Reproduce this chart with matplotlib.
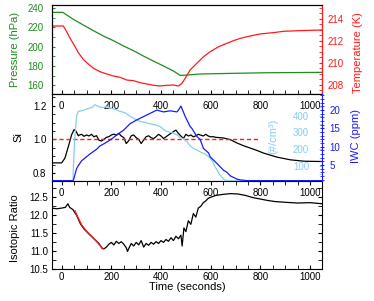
import matplotlib
matplotlib.use("Agg")
import matplotlib.pyplot as plt
from matplotlib.ticker import MultipleLocator, FixedLocator

plt.rcParams["font.family"] = ["Liberation Sans", "DejaVu Sans"]

GREEN = "#1e8c1e"
RED = "#ff1a1a"
LIGHTBLUE = "#87ceeb"
BLUE = "#1a1aff"

# top panel: chamber pressure and temperature
pres_t = [-39, 5, 20, 47, 87, 128, 168, 208, 249, 289, 329, 369, 410, 450,
          477, 504, 557, 692, 826, 1048]
pres_hpa = [235.5, 235.5, 232.8, 228.3, 222.4, 216.5, 211.0, 206.2, 200.7,
            195.8, 190.3, 185.1, 180.0, 174.8, 170.3, 170.6, 171.7, 172.4,
            173.0, 173.4]

temp_t = [-39, 7, 20, 34, 50, 67, 87, 107, 128, 154, 181, 208, 235, 262, 289,
          316, 343, 369, 396, 423, 450, 470, 484, 497, 517, 544, 571, 598, 632,
          665, 692, 719, 759, 800, 853, 894, 961, 1048]
temp_k = [213.36, 213.36, 212.85, 212.24, 211.64, 210.94, 210.33, 209.91,
          209.52, 209.21, 209.0, 208.82, 208.7, 208.45, 208.39, 208.21, 208.09,
          207.97, 207.91, 207.97, 208.0, 207.91, 208.15, 208.6, 209.36, 209.97,
          210.57, 211.03, 211.48, 211.79, 212.03, 212.24, 212.45, 212.64,
          212.76, 212.88, 212.94, 213.0]

# middle panel: saturation ratio, ice number and ice water content
si_t = [-39, 0, 13, 27, 40, 50, 58, 67,
        70, 80, 90, 100, 110, 120, 130, 140, 150, 160, 170, 180, 190, 200,
        210, 220, 230, 240, 250, 260, 270, 280, 290, 300, 310, 320, 330, 340,
        350, 360, 370, 380, 390, 400, 410, 420, 430, 440, 450, 460, 470, 480,
        490, 500, 510, 520, 530, 540, 550, 560, 570, 580, 590, 600, 610, 620,
        652, 679, 706, 732, 759, 786, 813, 840, 867, 894, 921, 948, 974, 1001,
        1048]
si = [0.86, 0.86, 0.888, 0.958, 1.027, 1.058, 1.048, 1.021,
      1.025, 1.03, 1.018, 1.026, 1.02, 1.03, 1.015, 1.022, 0.995, 0.99, 1.0,
      1.012, 1.016, 1.026, 1.031, 1.024, 1.036, 1.02, 1.01, 0.975, 0.992,
      1.021, 1.026, 1.01, 1.0, 0.975, 0.996, 1.016, 1.021, 1.01, 1.004, 1.016,
      1.03, 1.02, 1.005, 1.015, 1.026, 1.036, 1.046, 1.055, 1.035, 1.02,
      1.005, 1.03, 1.02, 1.026, 1.015, 1.021, 1.03, 1.025, 1.02, 1.03, 1.02,
      1.015, 1.016, 1.012,
      1.008, 0.998, 0.978, 0.962, 0.948, 0.934, 0.918, 0.906, 0.894, 0.886,
      0.878, 0.874, 0.870, 0.869, 0.868]
si_one = 1.0
si_one_end = 800

nc_t = [-39, 45, 52, 60, 67, 87, 100, 114, 124, 134, 145, 154, 170, 185, 195,
        215, 235, 255, 276, 296, 316, 336, 356, 376, 396, 410, 423, 440, 450,
        465, 477, 490, 504, 520, 531, 545, 558, 570, 585, 605, 618, 638, 658,
        680, 1048]
nc = [12, 12, 250, 400, 426, 432, 440, 446, 452, 466, 458, 452, 450, 455, 446,
      438, 426, 418, 396, 380, 366, 360, 352, 346, 336, 318, 306, 300, 296,
      285, 270, 262, 245, 215, 204, 195, 184, 176, 164, 134, 94, 44, 14, 12, 12]
nc_ticks = [100, 200, 300, 400]

iwc_t = [-39, 47, 60, 67, 81, 87, 114, 141, 154, 168, 195, 222, 249, 276, 302,
         329, 356, 383, 410, 437, 464, 472, 480, 488, 497, 517, 524, 544, 557,
         571, 591, 598, 625, 652, 665, 679, 706, 719, 746, 1048]
iwc = [0.7, 0.7, 4.0, 4.8, 6.2, 6.5, 8.0, 9.3, 10.2, 10.7, 11.8, 13.2, 14.5,
       16.3, 17.3, 18.2, 19.1, 20.0, 19.5, 19.8, 19.5, 20.2, 21.1, 19.8, 18.3,
       15.5, 15.0, 12.8, 12.0, 9.5, 8.3, 7.2, 5.4, 3.5, 3.0, 2.0, 1.1, 0.9,
       0.7, 0.7]
iwc_ticks = [5, 10, 15, 20]

# bottom panel: isotopic ratio and the fit over the early drop
iso_t = [-39, -20, 0, 15, 25, 32, 45, 60, 75, 90, 110, 130, 150, 162,
         170, 180, 190, 200, 210, 220, 230, 240, 250, 260, 265, 270, 280, 290,
         300, 310, 320, 330, 340, 350, 360, 370, 380, 390, 400, 410, 420, 430,
         440, 450, 460, 470, 480, 485, 492, 500, 510, 520, 530, 540, 550, 560,
         570, 580, 590, 600, 620, 650, 680, 710, 740, 770, 800, 830, 860, 900,
         950, 1000, 1048]
iso = [12.2, 12.18, 12.2, 12.22, 12.32, 12.22, 12.16, 12.0, 11.77, 11.62,
       11.48, 11.35, 11.22, 11.09,
       11.07, 11.12, 11.2, 11.25, 11.18, 11.28, 11.22, 11.27, 11.2, 11.1, 11.0,
       11.08, 11.22, 11.15, 11.25, 11.18, 11.3, 11.12, 11.22, 11.17, 11.25,
       11.2, 11.27, 11.22, 11.3, 11.25, 11.33, 11.28, 11.38, 11.3, 11.42,
       11.35, 11.45, 11.15, 11.65, 11.55, 11.85, 11.75, 12.05, 11.95, 12.2,
       12.25, 12.35, 12.4, 12.47, 12.5, 12.55, 12.58, 12.6, 12.59, 12.55,
       12.49, 12.45, 12.41, 12.38, 12.36, 12.34, 12.35, 12.32]

fit_t = [54, 65, 80, 95, 110, 125, 140, 155, 165]
fit_iso = [12.12, 11.95, 11.74, 11.6, 11.49, 11.39, 11.28, 11.16, 11.08]

x_range = (-39, 1048)


def style_x(ax):
    ax.set_xlim(*x_range)
    ax.xaxis.set_major_locator(MultipleLocator(200))
    ax.xaxis.set_minor_locator(MultipleLocator(50))


def inner_top_labels(ax, tick_length):
    sec = ax.secondary_xaxis("top")
    sec.xaxis.set_major_locator(MultipleLocator(200))
    sec.xaxis.set_minor_locator(MultipleLocator(50))
    sec.tick_params(which="both", direction="in", length=tick_length,
                    pad=-12, labelsize=7)
    sec.spines["top"].set_visible(False)
    return sec


fig = plt.figure(figsize=(3.74, 3.01), dpi=100)
left, width = 0.139, 0.722
ax_top = fig.add_axes([left, 0.6877, width, 0.2957])
ax_mid = fig.add_axes([left, 0.3987, width, 0.2890])
ax_bot = fig.add_axes([left, 0.1047, width, 0.2940])

# --- top panel
ax_top.plot(pres_t, pres_hpa, color=GREEN, lw=0.9)
style_x(ax_top)
ax_top.set_ylim(151, 243.1)
ax_top.yaxis.set_major_locator(MultipleLocator(20))
ax_top.yaxis.set_minor_locator(MultipleLocator(10))
ax_top.tick_params(axis="x", which="both", direction="in", length=3,
                   labelbottom=False)
ax_top.tick_params(axis="y", which="both", direction="in", length=2,
                   colors=GREEN, labelsize=7, pad=6)
ax_top.set_ylabel("Pressure (hPa)", color=GREEN, fontsize=8)
ax_top.yaxis.set_label_coords(-0.118, 0.5)

ax_temp = ax_top.twinx()
ax_temp.plot(temp_t, temp_k, color=RED, lw=0.9)
ax_temp.set_ylim(207.18, 215.27)
ax_temp.yaxis.set_major_locator(MultipleLocator(2))
ax_temp.yaxis.set_minor_locator(MultipleLocator(0.5))
ax_temp.tick_params(axis="y", which="both", direction="in", length=2.5,
                    colors=RED, labelsize=7, pad=4)
ax_temp.spines["right"].set_color(RED)
ax_temp.set_ylabel("Temperature (K)", color=RED, fontsize=8)
ax_temp.yaxis.set_label_coords(1.115, 0.47)

# --- middle panel
ax_mid.plot(si_t, si, color="black", lw=0.9)
ax_mid.plot([x_range[0], si_one_end], [si_one, si_one], color=RED, lw=1.0,
            ls=(0, (3, 2)))
style_x(ax_mid)
ax_mid.set_ylim(0.752, 1.27)
ax_mid.yaxis.set_major_locator(MultipleLocator(0.2))
ax_mid.yaxis.set_minor_locator(MultipleLocator(0.05))
ax_mid.tick_params(axis="x", which="both", bottom=False, labelbottom=False)
ax_mid.tick_params(axis="y", which="both", direction="in", length=2.5,
                   labelsize=7, pad=4)
ax_mid.spines["right"].set_visible(False)
ax_mid.set_ylabel("Si", fontsize=8)
ax_mid.yaxis.set_label_coords(-0.105, 0.5)
inner_top_labels(ax_mid, 0)

ax_nc = ax_mid.twinx()
ax_nc.plot(nc_t, nc, color=LIGHTBLUE, lw=0.9)
ax_nc.set_ylim(10, 530)
ax_nc.yaxis.set_major_locator(FixedLocator(nc_ticks))
ax_nc.yaxis.set_minor_locator(FixedLocator([50, 150, 250, 350, 450]))
ax_nc.tick_params(axis="y", which="both", direction="in", length=2.5,
                  colors=LIGHTBLUE, labelsize=7, pad=-21)
for side in ax_nc.spines.values():
    side.set_visible(False)
ax_nc.set_ylabel("(#/cm³)", color=LIGHTBLUE, fontsize=8)
ax_nc.yaxis.set_label_coords(0.80, 0.51)

ax_iwc = ax_mid.twinx()
ax_iwc.plot(iwc_t, iwc, color=BLUE, lw=0.9)
ax_iwc.set_ylim(0.6, 24.4)
ax_iwc.yaxis.set_major_locator(FixedLocator(iwc_ticks))
ax_iwc.yaxis.set_minor_locator(MultipleLocator(1))
ax_iwc.tick_params(axis="y", which="both", direction="inout", length=3,
                   colors=BLUE, labelsize=7, pad=4)
ax_iwc.spines["right"].set_color(BLUE)
for name in ["left", "top", "bottom"]:
    ax_iwc.spines[name].set_visible(False)
ax_iwc.set_ylabel("IWC (ppm)", color=BLUE, fontsize=8)
ax_iwc.yaxis.set_label_coords(1.108, 0.52)

# --- bottom panel
ax_bot.plot(iso_t, iso, color="black", lw=0.9)
ax_bot.plot(fit_t, fit_iso, color=RED, lw=1.0)
style_x(ax_bot)
ax_bot.set_ylim(10.5, 12.95)
ax_bot.yaxis.set_major_locator(MultipleLocator(0.5))
ax_bot.yaxis.set_minor_locator(MultipleLocator(0.25))
ax_bot.tick_params(axis="both", which="both", direction="in", length=3,
                   labelsize=7, right=True)
ax_bot.tick_params(axis="x", pad=2)
ax_bot.tick_params(axis="y", pad=3)
ax_bot.set_xlabel("Time (seconds)", fontsize=8, labelpad=0)
ax_bot.set_ylabel("Isotopic Ratio", fontsize=8)
ax_bot.yaxis.set_label_coords(-0.12, 0.47)
inner_top_labels(ax_bot, 3)

fig.savefig("out.png", dpi=100)
